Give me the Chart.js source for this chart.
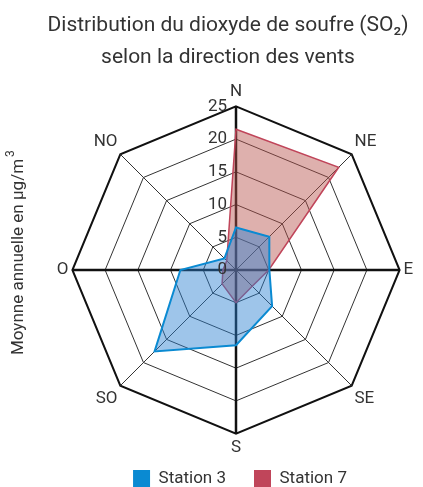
<!DOCTYPE html>
<html>
<head>
<meta charset="utf-8">
<script src="https://cdn.jsdelivr.net/npm/chart.js@4"></script>
<style>
  html, body { margin: 0; padding: 0; background: #fff; }
  #wrap { width: 423px; height: 487px; position: relative; }
</style>
</head>
<body>
<div id="wrap"><canvas id="radar"></canvas></div>
<script>
const directions = ['N', 'NE', 'E', 'SE', 'S', 'SO', 'O', 'NO'];
const station3 = [6.5, 7.2, 5.1, 7.8, 11.5, 17.6, 8.5, 2.5];
const station7 = [21.5, 22.2, 5.0, 3.5, 5.0, 3.0, 2.0, 2.0];
const tickValues = [0, 5, 10, 15, 20, 25];
const FONT = 'Roboto, "DejaVu Sans", sans-serif';

// tick numbers sit just left of the N axis
const tickLabels = {
  id: 'tickLabels',
  afterDatasetsDraw(chart) {
    const s = chart.scales.r;
    const ctx = chart.ctx;
    ctx.save();
    ctx.font = '17px ' + FONT;
    ctx.fillStyle = '#333';
    ctx.textAlign = 'right';
    ctx.textBaseline = 'middle';
    tickValues.forEach(v => {
      const d = s.getDistanceFromCenterForValue(v);
      ctx.fillText(String(v), s.xCenter - 9, s.yCenter - d);
    });
    ctx.restore();
  }
};

// rotated unit label on the left side
const unitLabel = {
  id: 'unitLabel',
  afterDraw(chart) {
    const ctx = chart.ctx;
    ctx.save();
    ctx.translate(19, 257);
    ctx.rotate(-Math.PI / 2);
    ctx.fillStyle = '#333';
    ctx.textBaseline = 'middle';
    ctx.font = '17px ' + FONT;
    const main = 'Moynne annuelle en µg/m';
    const w = ctx.measureText(main).width;
    ctx.textAlign = 'left';
    ctx.fillText(main, -w / 2, 0);
    ctx.font = '12px ' + FONT;
    ctx.fillText('3', w / 2 + 2, -8);
    ctx.restore();
  }
};

// legend keeps a small box so the radar gets the room; items pulled back up,
// title nudged a little left of the radar centre
const boxShift = {
  id: 'boxShift',
  afterLayout(chart) {
    const lg = chart.legend;
    lg.top -= 16;
    lg.bottom = chart.height;
    lg.left += 5;
    lg.right += 5;
    const tb = chart.titleBlock;
    tb.left -= 7;
    tb.right -= 7;
  }
};

new Chart(document.getElementById('radar'), {
  type: 'radar',
  data: {
    labels: directions,
    datasets: [
      {
        label: 'Station 3',
        data: station3,
        borderColor: '#0a8ad2',
        backgroundColor: 'rgba(39, 126, 208, 0.45)',
        borderWidth: 2,
        pointRadius: 0,
        fill: true
      },
      {
        label: 'Station 7',
        data: station7,
        borderColor: '#c0455a',
        backgroundColor: 'rgba(182, 79, 73, 0.45)',
        borderWidth: 1.5,
        pointRadius: 0,
        fill: true
      }
    ]
  },
  options: {
    responsive: true,
    maintainAspectRatio: false,
    animation: false,
    layout: { padding: { left: 47, right: 0, top: 4, bottom: 0 } },
    scales: {
      r: {
        min: 0,
        max: 25,
        beginAtZero: true,
        ticks: { display: false, stepSize: 5 },
        grid: {
          color: ctx => ctx.index === 5 ? '#111' : '#333',
          lineWidth: ctx => ctx.index === 5 ? 2 : 1
        },
        angleLines: {
          color: ctx => ctx.index % 2 === 0 ? '#111' : '#333',
          lineWidth: ctx => ctx.index % 2 === 0 ? 2.5 : 1
        },
        pointLabels: {
          color: '#333',
          padding: 4,
          font: { family: FONT, size: 17 }
        }
      }
    },
    plugins: {
      title: {
        display: true,
        text: ['Distribution du dioxyde de soufre (SO₂)', 'selon la direction des vents'],
        color: '#333',
        font: { family: FONT, size: 21, weight: 'normal', lineHeight: 1.5 },
        padding: { top: 6, bottom: 9 }
      },
      legend: {
        position: 'bottom',
        maxHeight: 29,
        labels: {
          color: '#333',
          font: { family: FONT, size: 17 },
          boxWidth: 17,
          boxHeight: 17,
          padding: 28,
          generateLabels: chart => chart.data.datasets.map((ds, i) => ({
            text: ds.label,
            fillStyle: ds.borderColor,
            strokeStyle: ds.borderColor,
            lineWidth: 0,
            datasetIndex: i,
            fontColor: '#333'
          }))
        }
      },
      tooltip: { enabled: false }
    }
  },
  plugins: [tickLabels, unitLabel, boxShift]
});
</script>
</body>
</html>
